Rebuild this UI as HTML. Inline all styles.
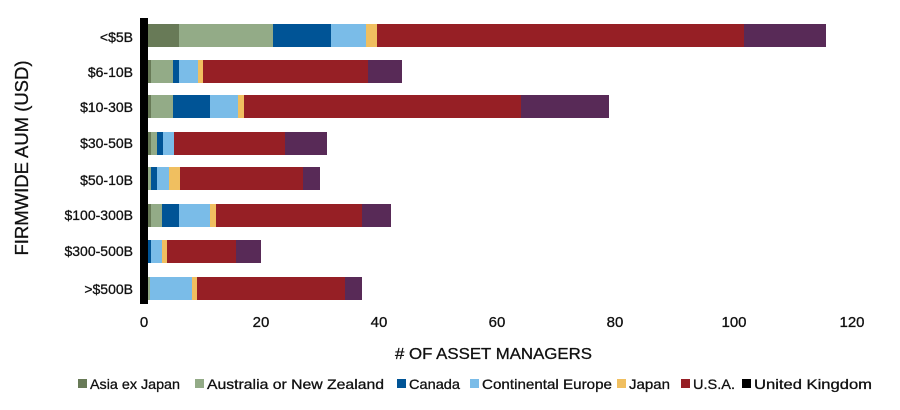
<!DOCTYPE html>
<html><head><meta charset="utf-8"><style>
html,body{margin:0;padding:0;background:#fff;width:900px;height:410px;overflow:hidden}
text{font-family:"Liberation Sans",sans-serif;fill:#111}
</style></head><body>
<svg width="900" height="410" xmlns="http://www.w3.org/2000/svg">
<g id="bars"></g>
<rect x="140" y="18" width="8" height="286" fill="#000"/>
<g font-size="14" text-anchor="end" stroke="#111" stroke-width="0.3">
<text x="133" y="42">&lt;$5B</text>
<text x="133" y="77">$6-10B</text>
<text x="133" y="112">$10-30B</text>
<text x="133" y="148">$30-50B</text>
<text x="133" y="185">$50-10B</text>
<text x="133" y="220">$100-300B</text>
<text x="133" y="256">$300-500B</text>
<text x="133" y="294">&gt;$500B</text>
</g>
<g font-size="15" text-anchor="middle" stroke="#111" stroke-width="0.3">
<text x="144" y="327">0</text><text x="261" y="327">20</text><text x="379" y="327">40</text>
<text x="497" y="327">60</text><text x="615" y="327">80</text><text x="734" y="327">100</text><text x="852" y="327">120</text>
</g>
<text x="395" y="359" font-size="16" textLength="197" lengthAdjust="spacingAndGlyphs" stroke="#111" stroke-width="0.3">#  OF ASSET MANAGERS</text>
<text transform="translate(28,158) rotate(-90)" font-size="18" text-anchor="middle" textLength="195" lengthAdjust="spacingAndGlyphs" stroke="#111" stroke-width="0.3">FIRMWIDE AUM (USD)</text>
<g font-size="14" stroke="#111" stroke-width="0.3">
<rect x="78" y="379" width="9" height="9" fill="#687a57" stroke="none"/><text x="90" y="389" textLength="90" lengthAdjust="spacingAndGlyphs">Asia ex Japan</text>
<rect x="195" y="379" width="9" height="9" fill="#93ab87" stroke="none"/><text x="207" y="389" textLength="177" lengthAdjust="spacingAndGlyphs">Australia or New Zealand</text>
<rect x="397" y="379" width="9" height="9" fill="#005496" stroke="none"/><text x="409" y="389" textLength="51" lengthAdjust="spacingAndGlyphs">Canada</text>
<rect x="470" y="379" width="9" height="9" fill="#7abce8" stroke="none"/><text x="482" y="389" textLength="130" lengthAdjust="spacingAndGlyphs">Continental Europe</text>
<rect x="617" y="379" width="9" height="9" fill="#f0bf60" stroke="none"/><text x="629" y="389" textLength="41" lengthAdjust="spacingAndGlyphs">Japan</text>
<rect x="681" y="379" width="9" height="9" fill="#961f25" stroke="none"/><text x="693" y="389" textLength="42" lengthAdjust="spacingAndGlyphs">U.S.A.</text>
<rect x="742" y="379" width="9" height="9" fill="#000" stroke="none"/><text x="754" y="389" textLength="118" lengthAdjust="spacingAndGlyphs">United Kingdom</text>
</g>
</svg>
<script>
var C=["#687a57","#93ab87","#005496","#7abce8","#f0bf60","#961f25","#582a57"];
var rows=[
[24,[[148,179,0],[179,273,1],[273,331,2],[331,366,3],[366,377,4],[377,744,5],[744,826,6]]],
[60,[[148,151,0],[151,173,1],[173,179,2],[179,198,3],[198,203,4],[203,368,5],[368,402,6]]],
[95,[[148,151,0],[151,173,1],[173,210,2],[210,238,3],[238,244,4],[244,521,5],[521,609,6]]],
[132,[[148,151,0],[151,157,1],[157,163,2],[163,174,3],[174,285,5],[285,327,6]]],
[167,[[148,151,1],[151,157,2],[157,169,3],[169,180,4],[180,303,5],[303,320,6]]],
[204,[[148,151,0],[151,162,1],[162,179,2],[179,210,3],[210,216,4],[216,362,5],[362,391,6]]],
[240,[[148,151,2],[151,162,3],[162,167,4],[167,236,5],[236,261,6]]],
[277,[[148,150,1],[150,192,3],[192,197,4],[197,345,5],[345,362,6]]]];
var g=document.getElementById("bars"),s="";
rows.forEach(function(r){r[1].forEach(function(b){s+='<rect x="'+b[0]+'" y="'+r[0]+'" width="'+(b[1]-b[0])+'" height="23" fill="'+C[b[2]]+'"/>';});});
g.innerHTML=s;
</script>
</body></html>
